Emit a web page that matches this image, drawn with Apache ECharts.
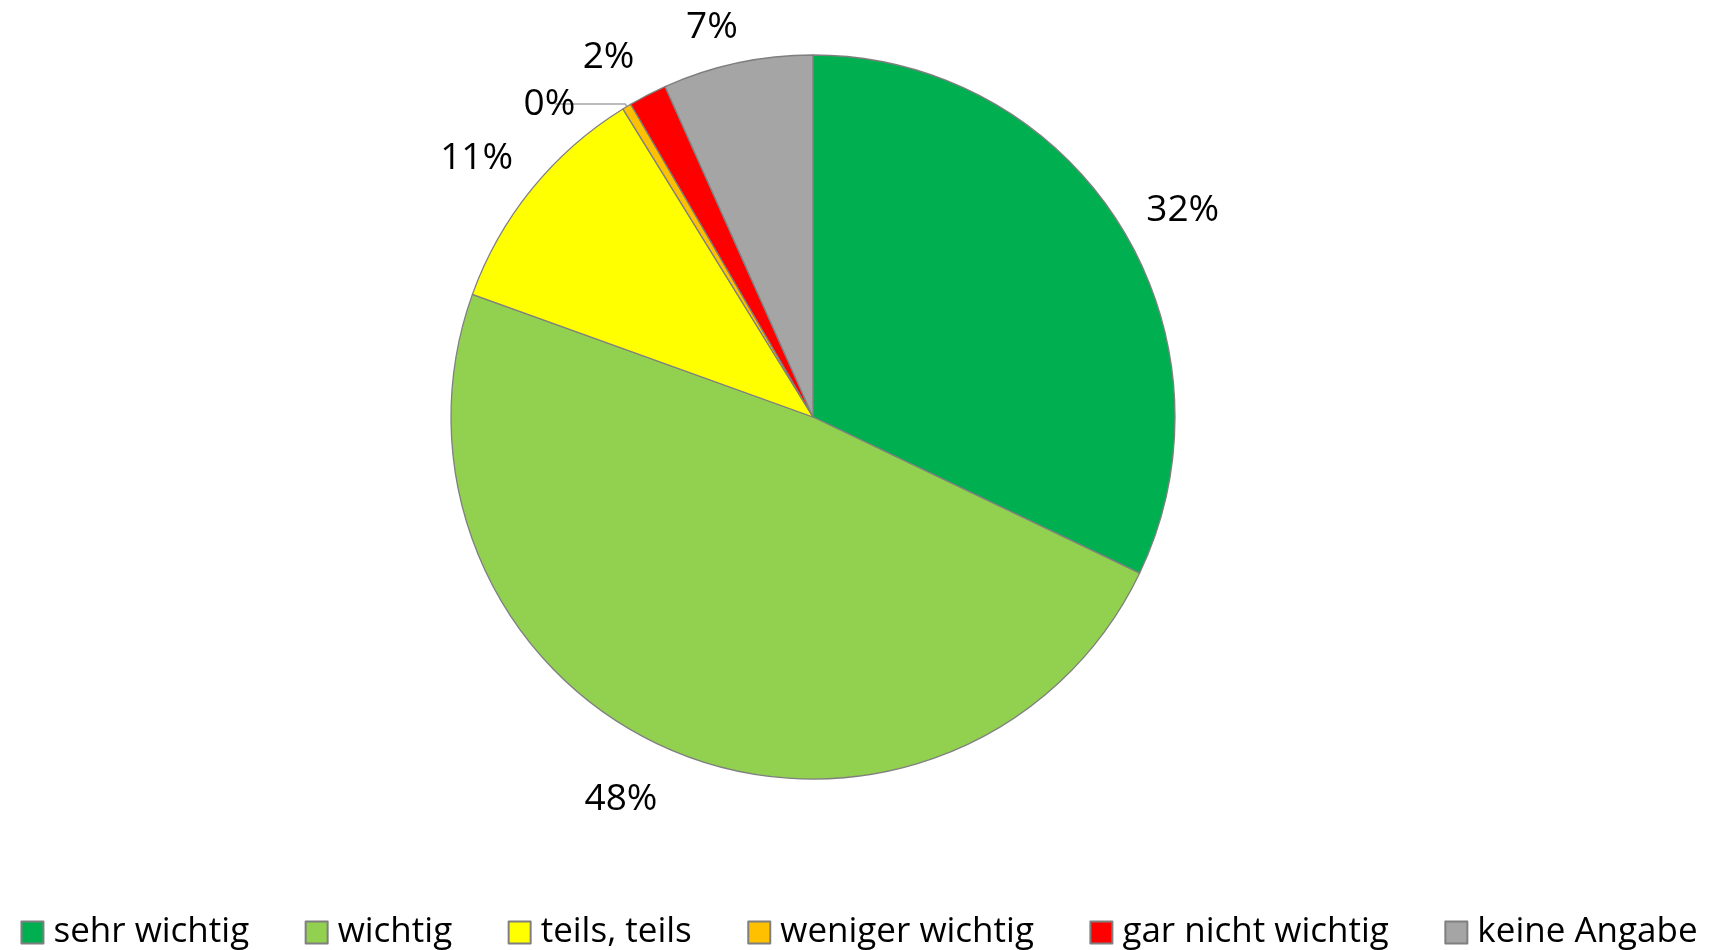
<!DOCTYPE html>
<html>
<head>
<meta charset="utf-8">
<script src="https://cdn.jsdelivr.net/npm/echarts@6/dist/echarts.min.js"></script>
<style>
  html, body { margin: 0; padding: 0; background: #fff; }
  #chart { width: 1718px; height: 950px; }
</style>
</head>
<body>
<div id="chart"></div>
<script>
// Kategorien und Anteile (in %)
var categories = ['sehr wichtig', 'wichtig', 'teils, teils', 'weniger wichtig', 'gar nicht wichtig', 'keine Angabe'];
var shares = [32.1, 48.4, 10.7, 0.4, 1.7, 6.7];
var colors = ['#00B050', '#92D050', '#FFFF00', '#FFC000', '#FF0000', '#A5A5A5'];
// Abstand der Beschriftung vom Kreisrand und Feinverschiebung je Segment
var labelDist = [26, 52, 32, 3, 40, 36];
var labelShiftX = [0, 9, 11, 25, 10, 13];
var labelShiftY = [0, 0, -10, 0, -2, 0];

var myChart = echarts.init(document.getElementById('chart'));

var data = [];
for (var i = 0; i < categories.length; i++) {
    var item = {
        name: categories[i],
        value: shares[i],
        itemStyle: { color: colors[i] },
        label: { padding: [0, -labelShiftX[i], 0, 0] },
        labelLine: { length: labelDist[i] }
    };
    // nur das kleine Segment bekommt eine Führungslinie
    if (categories[i] == 'weniger wichtig') {
        item.labelLine = { show: true, length: labelDist[i], length2: 70, lineStyle: { color: '#A6A6A6', width: 1.5 } };
    }
    data.push(item);
}

var option = {
    animation: false,
    textStyle: { fontFamily: 'Open Sans' },
    legend: {
        data: categories,
        left: 'center',
        top: 910,
        itemWidth: 22,
        itemHeight: 22,
        itemGap: 55.5,
        icon: 'rect',
        itemStyle: { borderColor: '#7F7F7F', borderWidth: 2 },
        textStyle: { fontSize: 35, color: '#000', fontFamily: 'Open Sans', padding: [0, 0, 0, 5] }
    },
    series: [{
        type: 'pie',
        center: [813, 417],
        radius: 362,
        startAngle: 90,
        clockwise: true,
        avoidLabelOverlap: false,
        itemStyle: { borderColor: '#7F7F7F', borderWidth: 1.3 },
        label: {
            show: true,
            position: 'outside',
            fontSize: 37,
            color: '#000',
            fontFamily: 'Open Sans',
            formatter: function (p) { return Math.round(p.value) + '%'; }
        },
        labelLine: { show: false, length: 40, length2: 0 },
        labelLayout: function (p) {
            if (labelShiftY[p.dataIndex]) {
                return { dy: labelShiftY[p.dataIndex] };
            }
            return {};
        },
        emphasis: { disabled: true },
        data: data
    }]
};
myChart.setOption(option);
</script>
</body>
</html>
